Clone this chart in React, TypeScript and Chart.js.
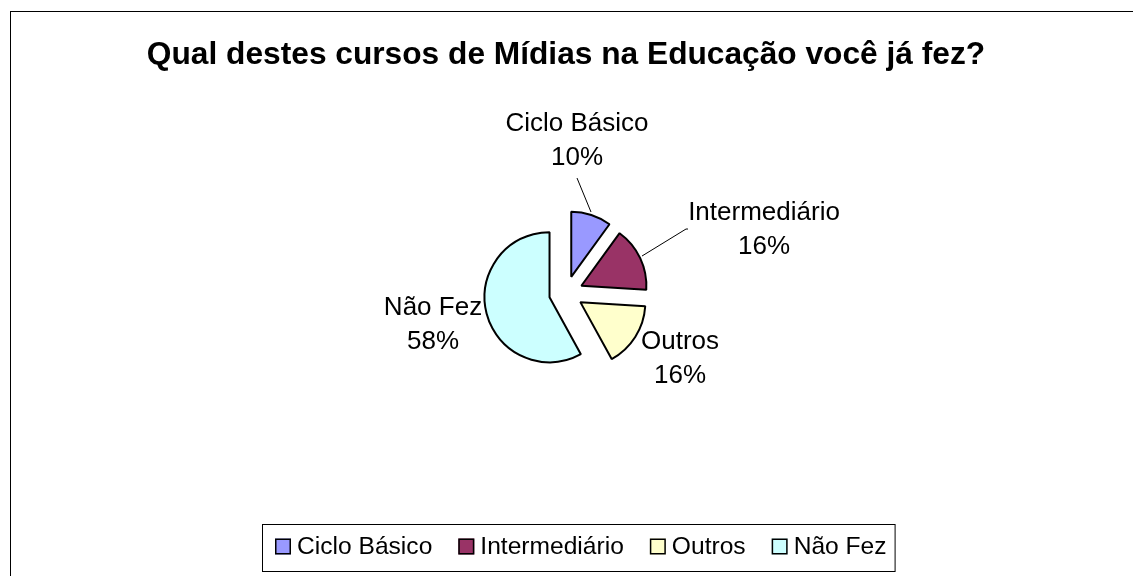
import React, { useEffect, useRef } from "react";
import { Chart, registerables } from "chart.js";

Chart.register(...registerables);

const TITLE = "Qual destes cursos de Mídias na Educação você já fez?";
const categories = ["Ciclo Básico", "Intermediário", "Outros", "Não Fez"];
const percentages = [10, 16, 16, 58];
const colors = ["#9999FF", "#993366", "#FFFFCC", "#CCFFFF"];

const FONT = '"Liberation Sans", Arial, sans-serif';
const EXPLODE = 17;

// layout only: label block centres relative to the pie centre
const LABEL_POS: number[][] = [
  [11, -152],
  [198, -63],
  [114, 66],
  [-133, 32],
];
const LINE_GAP = 34;
// leader lines relative to the pie centre
const LEADERS: (number[][] | null)[] = [
  [
    [11, -115],
    [25, -81],
  ],
  [
    [122, -64],
    [120, -64],
    [76, -37],
  ],
  null,
  null,
];

const framePlugin = {
  id: "frame",
  beforeDraw(chart: any) {
    const ctx = chart.ctx;
    ctx.save();
    ctx.fillStyle = "#ffffff";
    ctx.fillRect(0, 0, chart.width, chart.height);
    ctx.strokeStyle = "#000000";
    ctx.lineWidth = 1;
    ctx.strokeRect(10.5, 11.5, chart.width + 20, chart.height + 20);
    ctx.restore();
  },
};

const explodePlugin = {
  id: "explode",
  beforeDatasetDraw(chart: any, args: any) {
    const ctx = chart.ctx;
    const meta = args.meta;
    meta.data.forEach((arc: any) => {
      const mid = (arc.startAngle + arc.endAngle) / 2;
      ctx.save();
      ctx.translate(Math.cos(mid) * EXPLODE, Math.sin(mid) * EXPLODE);
      arc.draw(ctx);
      ctx.restore();
    });
    return false;
  },
};

const labelsPlugin = {
  id: "sliceLabels",
  afterDatasetsDraw(chart: any) {
    const ctx = chart.ctx;
    const meta = chart.getDatasetMeta(0);
    const arc = meta.data[0];
    const cx = arc.x;
    const cy = arc.y;
    ctx.save();
    ctx.strokeStyle = "#000000";
    ctx.lineWidth = 1;
    LEADERS.forEach((pts) => {
      if (!pts) return;
      ctx.beginPath();
      pts.forEach((p, i) => {
        if (i === 0) ctx.moveTo(cx + p[0], cy + p[1]);
        else ctx.lineTo(cx + p[0], cy + p[1]);
      });
      ctx.stroke();
    });
    ctx.fillStyle = "#000000";
    ctx.font = `26px ${FONT}`;
    ctx.textAlign = "center";
    ctx.textBaseline = "middle";
    const data = chart.data.datasets[0].data as number[];
    const total = data.reduce((a, b) => a + b, 0);
    chart.data.labels.forEach((lab: string, i: number) => {
      const pct = Math.round((data[i] / total) * 100) + "%";
      const x = cx + LABEL_POS[i][0];
      const y = cy + LABEL_POS[i][1];
      ctx.fillText(lab, x, y - LINE_GAP / 2);
      ctx.fillText(pct, x, y + LINE_GAP / 2);
    });
    ctx.restore();
  },
};

const legendPlugin = {
  id: "boxedLegend",
  afterDraw(chart: any) {
    const ctx = chart.ctx;
    const ds = chart.data.datasets[0];
    ctx.save();
    ctx.font = `24.6px ${FONT}`;
    ctx.textBaseline = "middle";
    ctx.textAlign = "left";
    const sq = 16;
    const gapText = 6;
    const gapItem = 26;
    const padL = 13;
    const padR = 8;
    const labels: string[] = chart.data.labels;
    const widths = labels.map((l) => ctx.measureText(l).width);
    let content = 0;
    widths.forEach((w, i) => {
      content += sq + gapText + w + (i < widths.length - 1 ? gapItem : 0);
    });
    const boxLeft = 262;
    const boxTop = 524;
    const boxW = content + padL + padR;
    const boxH = 47;
    ctx.strokeStyle = "#000000";
    ctx.lineWidth = 1;
    ctx.strokeRect(boxLeft + 0.5, boxTop + 0.5, boxW, boxH);
    const cy = 546.5;
    let x = boxLeft + padL;
    labels.forEach((l, i) => {
      ctx.fillStyle = ds.backgroundColor[i];
      ctx.fillRect(x, cy - 8, sq, sq);
      ctx.strokeStyle = "#000000";
      ctx.lineWidth = 1.5;
      ctx.strokeRect(x + 0.75, cy - 7.25, sq - 1.5, sq - 1.5);
      ctx.fillStyle = "#000000";
      ctx.fillText(l, x + sq + gapText, cy + 1);
      x += sq + gapText + widths[i] + gapItem;
    });
    ctx.restore();
  },
};

export default function App() {
  const ref = useRef<HTMLCanvasElement | null>(null);
  useEffect(() => {
    if (!ref.current) return;
    const chart = new Chart(ref.current, {
      type: "pie",
      data: {
        labels: categories,
        datasets: [
          {
            data: percentages,
            backgroundColor: colors,
            borderColor: "#000000",
            borderWidth: 2,
            offset: 0,
            hoverOffset: 0,
          },
        ],
      },
      options: {
        responsive: false,
        animation: false,
        radius: 65,
        layout: { padding: { top: 0, left: 0, right: 1, bottom: 64 } },
        plugins: {
          legend: { display: false },
          tooltip: { enabled: false },
          title: {
            display: true,
            text: TITLE,
            color: "#000000",
            font: { family: FONT, size: 31.7, weight: "bold", lineHeight: 1.2 },
            padding: { top: 36, bottom: 0 },
          },
        },
      } as any,
      plugins: [framePlugin, explodePlugin, labelsPlugin, legendPlugin],
    });
    return () => chart.destroy();
  }, []);
  return (
    <div style={{ position: "fixed", left: 0, top: 0, width: 1133, height: 576 }}>
      <canvas ref={ref} width={1133} height={576} style={{ width: 1133, height: 576 }} />
    </div>
  );
}
